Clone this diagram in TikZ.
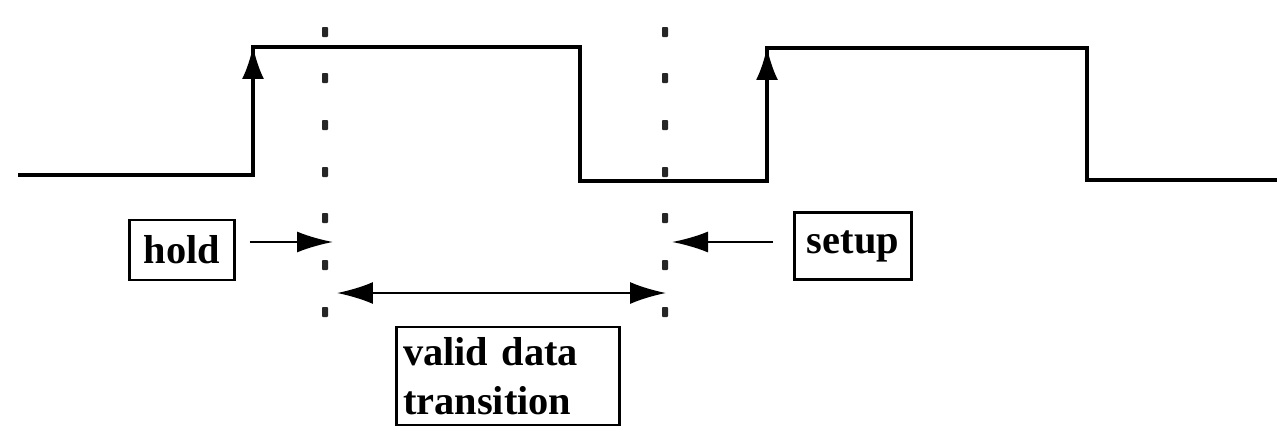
\documentclass[tikz,border=0pt]{standalone}
\usepackage{fontspec}
\setmainfont{Liberation Serif}
\usetikzlibrary{arrows.meta}
\tikzset{
    signal/.style={line width=2pt, line cap=rect},
    tbox/.style={draw, line width=1.4pt, inner sep=3pt,
                 font=\fontsize{23}{28}\selectfont\bfseries},
    pointer/.style={line width=1.3pt, -{Latex[length=0.72cm,width=0.42cm]}},
    bothway/.style={line width=1.3pt, {Latex[length=0.72cm,width=0.44cm]}-{Latex[length=0.72cm,width=0.44cm]}},
    % marks along the sampling window
    winmark/.style={fill=black!85, rounded corners=0.5pt}
}

\begin{document}
\begin{tikzpicture}[x=0.02cm,y=-0.02cm]
    \useasboundingbox (0,0) rectangle (1277,433);

    % clock waveform
    \draw[signal] (20,175) -- (253,175) -- (253,47) -- (580,47) -- (580,181)
        -- (767,181) -- (767,48) -- (1087,48) -- (1087,180) -- (1277,180);
    \draw[signal,-{Latex[length=0.66cm,width=0.44cm]}] (253,120) -- (253,46);
    \draw[signal,-{Latex[length=0.66cm,width=0.44cm]}] (767,120) -- (767,47);

    % dotted edges of the window
    \foreach \y in {32,78,125,172,218,265,312}{
        \fill[winmark] (322,\y-5) rectangle (328,\y+5);
        \fill[winmark] (662,\y-5) rectangle (668,\y+5);
    }

    \coordinate (holdend) at (333,242);
    \coordinate (setupend) at (672,242);
    \coordinate (winleft) at (337,293);
    \coordinate (winright) at (666,293);

    \node[tbox, minimum width=2.1cm, minimum height=1.2cm] (hold) at (182,250) {hold};
    \node[tbox, minimum width=2.34cm, minimum height=1.34cm] (setup) at (853,246) {setup};
    \node[tbox, minimum width=4.46cm, minimum height=1.96cm, text width=4.2cm,
          align=left] (valid) at (508,376) {valid data\\transition};

    \draw[pointer] (hold.east |- holdend) ++(14,0) -- (holdend);
    \draw[pointer] (setup.west |- setupend) ++(-20,0) -- (setupend);
    \draw[bothway] (winleft) -- (winright);
\end{tikzpicture}
\end{document}
